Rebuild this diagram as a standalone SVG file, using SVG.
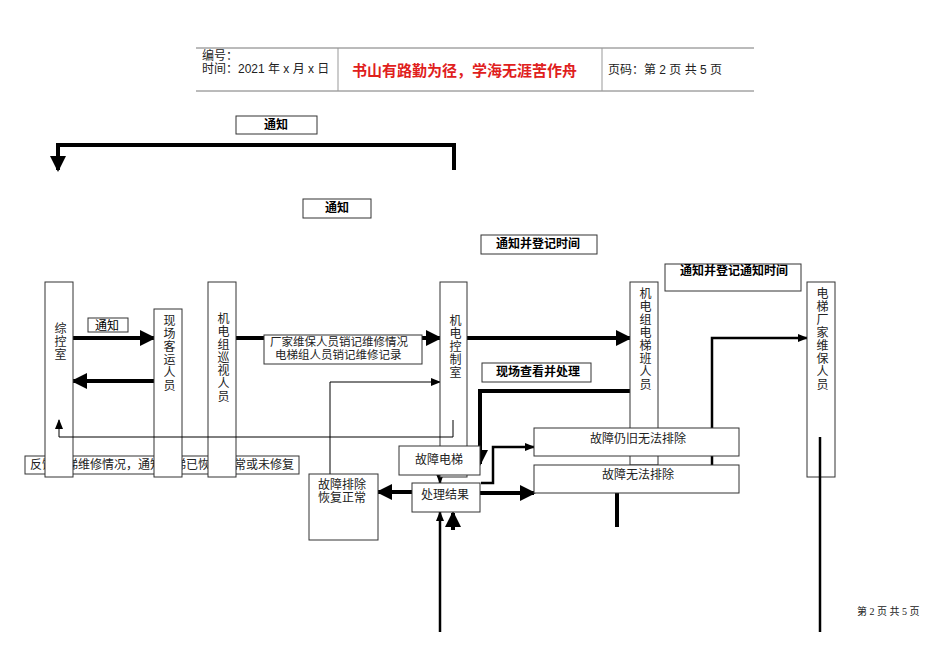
<svg xmlns="http://www.w3.org/2000/svg" width="950" height="672" viewBox="0 0 950 672">
<style>
text{font-family:"Liberation Serif","Noto Sans CJK SC",serif;font-size:12px;fill:#222}
.b{font-family:"Liberation Sans","Noto Sans CJK SC",sans-serif;font-weight:bold;font-size:12px;fill:#000}
.box{fill:#fff;stroke:#333;stroke-width:1}
.t{fill:none;stroke:#000;stroke-width:4}
.m{fill:none;stroke:#000;stroke-width:2.5}
.n{fill:none;stroke:#000;stroke-width:1}
.v{writing-mode:tb;letter-spacing:1px}
</style>
<defs>
<marker id="a" markerWidth="4" markerHeight="4" refX="3.5" refY="2" orient="auto" markerUnits="strokeWidth"><path d="M0,0L4,2L0,4Z"/></marker>
<marker id="s" markerWidth="10" markerHeight="8" refX="9" refY="4" orient="auto" markerUnits="userSpaceOnUse"><path d="M0,0L10,4L0,8Z"/></marker>
</defs>
<rect width="950" height="672" fill="#fff"/>
<g id="header">
<line x1="196" y1="48" x2="754" y2="48" stroke="#777"/>
<line x1="196" y1="91" x2="754" y2="91" stroke="#777"/>
<line x1="338" y1="48" x2="338" y2="91" stroke="#999"/>
<line x1="602" y1="48" x2="602" y2="91" stroke="#999"/>
<text x="202" y="60" style="font-family:'Liberation Sans','Noto Sans CJK SC',sans-serif">编号：</text>
<text x="202" y="73" style="font-family:'Liberation Sans','Noto Sans CJK SC',sans-serif">时间：2021 年 x 月 x 日</text>
<text x="352" y="76" style="font-family:'Noto Sans CJK SC',sans-serif;font-size:15px;font-weight:bold;fill:#e0201c">书山有路勤为径，学海无涯苦作舟</text>
<text x="608" y="74" style="font-family:'Liberation Sans','Noto Sans CJK SC',sans-serif">页码：第 2 页 共 5 页</text>
</g>
<g id="feedback"><rect class="box" x="25" y="456" width="274" height="18"/><text x="30" y="469">反馈电梯维修情况，通知电梯已恢复正常或未修复</text></g>
<g id="connectors">
<path class="t" d="M454,170V145H58V170" marker-end="url(#a)"/>
<path class="t" d="M73,338H154" marker-end="url(#a)"/>
<path class="t" d="M154,381H73" marker-end="url(#a)"/>
<path class="t" d="M236,338H440" marker-end="url(#a)"/>
<path class="t" d="M467,338H630" marker-end="url(#a)"/>
<path class="n" d="M330,474V382H440" marker-end="url(#s)"/>
<path class="t" d="M630,391H480V464" marker-end="url(#a)"/>
<path class="m" d="M440,475V483" marker-end="url(#s)"/>
<path class="t" d="M412,492H378" marker-end="url(#a)"/>
<path class="m" d="M481,483H493V447H534" marker-end="url(#s)"/>
<path class="t" d="M480,493H534" marker-end="url(#a)"/>
<path class="m" d="M440,632V512" marker-end="url(#s)"/>
<path class="t" d="M453,530V513" marker-end="url(#a)"/>
<path class="t" d="M617,493V527"/>
<path class="m" d="M712,485V338H807" marker-end="url(#s)"/>
</g>
<g id="n1"><rect class="box" x="236" y="116" width="81" height="18"/><text class="b" x="264" y="129">通知</text></g>
<g id="n2"><rect class="box" x="303" y="199" width="68" height="19"/><text class="b" x="325" y="212">通知</text></g>
<g id="n3"><rect class="box" x="481" y="235" width="116" height="19"/><text class="b" x="496" y="248">通知并登记时间</text></g>
<g id="n4"><rect class="box" x="665" y="264" width="136" height="27"/><text class="b" x="680" y="275">通知并登记通知时间</text></g>
<g id="zk"><rect class="box" x="45" y="282" width="28" height="195"/><text class="v" x="59" y="322">综控室</text></g>
<g id="xc"><rect class="box" x="154" y="309" width="28" height="168"/><text class="v" x="168" y="314">现场客运人员</text></g>
<g id="xs"><rect class="box" x="208" y="282" width="28" height="195"/><text class="v" x="222" y="312">机电组巡视人员</text></g>
<g id="kz"><rect class="box" x="440" y="282" width="27" height="195"/><text class="v" x="454" y="314">机电控制室</text></g>
<g id="bz"><rect class="box" x="630" y="282" width="28" height="183"/><text class="v" x="644" y="287">机电组电梯班人员</text></g>
<g id="cj"><rect class="box" x="807" y="282" width="28" height="195"/><text class="v" x="821" y="287">电梯厂家维保人员</text></g>
<g id="tz"><rect class="box" x="88" y="318" width="40" height="14"/><text class="b" x="95" y="330" style="font-weight:normal">通知</text></g>
<g id="xj"><rect class="box" x="264" y="335" width="158" height="29"/><text x="270" y="346" style="font-size:11.5px">厂家维保人员销记维修情况</text><text x="275" y="359" style="font-size:11.5px">电梯组人员销记维修记录</text></g>
<g id="ck"><rect class="box" x="482" y="363" width="109" height="19"/><text class="b" x="496" y="376">现场查看并处理</text></g>
<g id="gz"><rect class="box" x="399" y="446" width="81" height="29"/><text x="415" y="464">故障电梯</text></g>
<g id="rj"><rect class="box" x="534" y="428" width="205" height="28"/><text x="590" y="443">故障仍旧无法排除</text></g>
<g id="wf"><rect class="box" x="534" y="465" width="205" height="28"/><text x="602" y="479">故障无法排除</text></g>
<g id="hf"><rect class="box" x="309" y="474" width="69" height="66"/><text x="318" y="489">故障排除</text><text x="318" y="502">恢复正常</text></g>
<g id="jg"><rect class="box" x="412" y="483" width="68" height="29"/><text x="421" y="499">处理结果</text></g>
<g id="connectors-front">
<path class="n" d="M453,420V437H59V420" marker-end="url(#s)"/>
<path class="m" d="M820,437V632"/>
</g>
<text x="857" y="615" style="font-size:10px">第 2 页 共 5 页</text>
</svg>
